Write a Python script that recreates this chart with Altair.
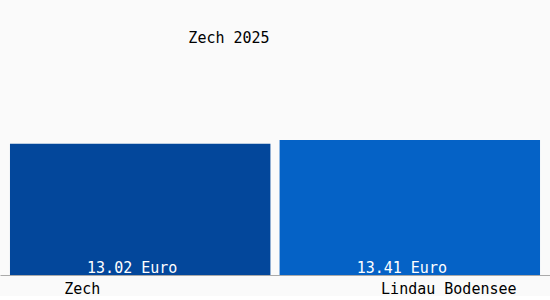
import altair as alt
import pandas as pd

categories = ["Zech", "Lindau Bodensee"]
values = [13.02, 13.41]
value_labels = ["13.02 Euro", "13.41 Euro"]
bar_colors = ["#03479b", "#0562c6"]
title_text = "Zech 2025"

df = pd.DataFrame({"cat": categories, "val": values, "lab": value_labels})
FONT = "DejaVu Sans Mono"

x = alt.X("cat:N", sort=categories,
          scale=alt.Scale(paddingInner=0.034, paddingOuter=0.037),
          axis=alt.Axis(title=None, ticks=False, labelAngle=0, labelFont=FONT,
                        labelFontSize=15, labelColor="#000", labelPadding=6,
                        domainColor="#aaaaaa",
                        labelOffset={"condition": {"test": "datum.value == 'Zech'", "value": -58}, "value": 39}))

base = alt.Chart(df)
bars = base.mark_bar().encode(
    x=x,
    y=alt.Y("val:Q", scale=alt.Scale(domain=[0, 27.3], nice=False), axis=None),
    color=alt.Color("cat:N", scale=alt.Scale(domain=categories, range=bar_colors), legend=None),
)
texts = base.mark_text(font=FONT, fontSize=15, color="white", baseline="alphabetic", dy=-2, dx=-8).encode(
    x=alt.X("cat:N", sort=categories),
    y=alt.YDatum(0),
    text="lab:N",
)

chart = (bars + texts).properties(
    width=550, height=275, padding=0,
    title=alt.TitleParams(title_text, font=FONT, fontSize=15, fontWeight="normal",
                          color="#000", anchor="middle", dx=-46, offset=-46),
).configure(background="#fafafa").configure_view(stroke=None)

chart.save("out.html", embed_options={"renderer": "svg", "actions": False})
